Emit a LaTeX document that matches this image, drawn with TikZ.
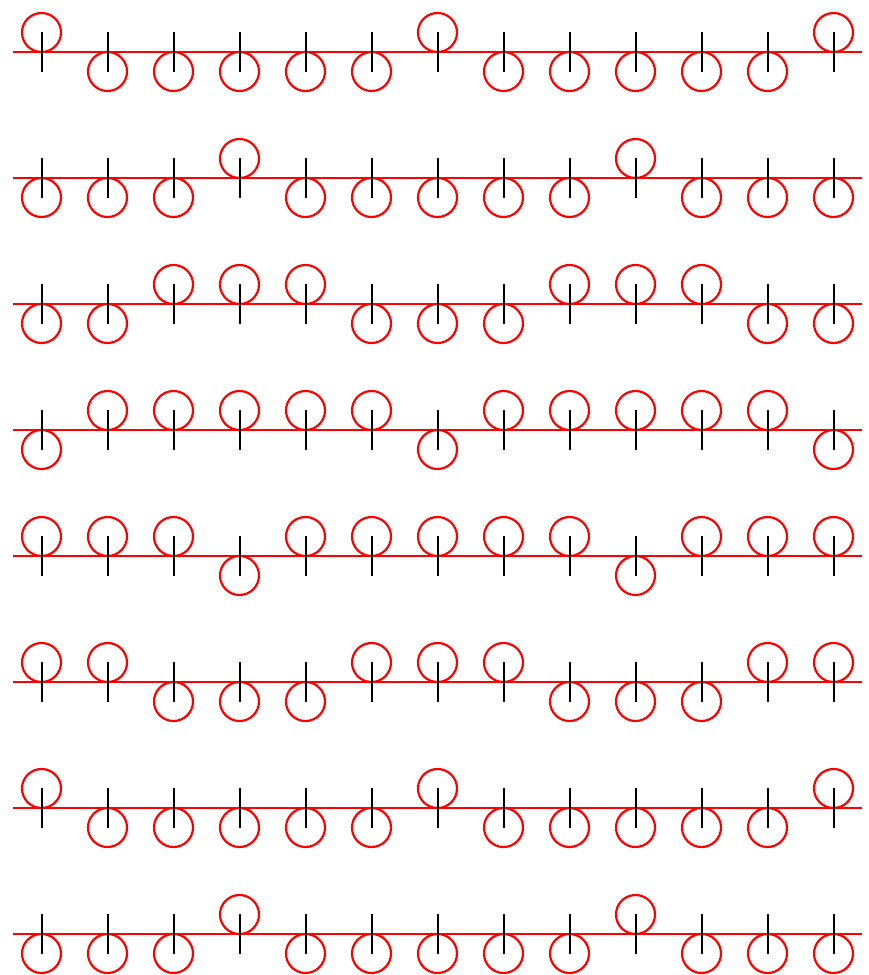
\documentclass[tikz,border=0pt]{standalone}
\usepackage{tikz}

\tikzset{
  redline/.style={draw=red, line width=2.2pt},
  ring/.style={circle, draw=red, line width=2.2pt, minimum size=39pt, inner sep=0pt},
  tickmark/.style={draw=black, line width=2pt}
}

\begin{document}
\begin{tikzpicture}[x=1pt, y=-1pt]
\useasboundingbox[fill=white] (0,0) rectangle (868,975);

\foreach \pat [count=\r] in {
  {1,0,0,0,0,0,1,0,0,0,0,0,1},
  {0,0,0,1,0,0,0,0,0,1,0,0,0},
  {0,0,1,1,1,0,0,0,1,1,1,0,0},
  {0,1,1,1,1,1,0,1,1,1,1,1,0},
  {1,1,1,0,1,1,1,1,1,0,1,1,1},
  {1,1,0,0,0,1,1,1,0,0,0,1,1},
  {1,0,0,0,0,0,1,0,0,0,0,0,1},
  {0,0,0,1,0,0,0,0,0,1,0,0,0}}
{
  \pgfmathsetmacro\ly{52+126*(\r-1)}
  \coordinate (L\r) at (13,\ly);
  \coordinate (R\r) at (862,\ly);
  \draw[redline] (L\r) -- (R\r);
  \foreach \s [count=\c] in \pat {
    \pgfmathsetmacro\cx{41.5+66*(\c-1)}
    \pgfmathsetmacro\cy{\ly+19.5*(1-2*\s)}
    \node[ring] (ring-\r-\c) at (\cx,\cy) {};
    \coordinate (top-\r-\c) at (\cx,\ly-20);
    \coordinate (bot-\r-\c) at (\cx,\ly+20);
    \draw[tickmark] (top-\r-\c) -- (bot-\r-\c);
  }
}
\end{tikzpicture}
\end{document}
